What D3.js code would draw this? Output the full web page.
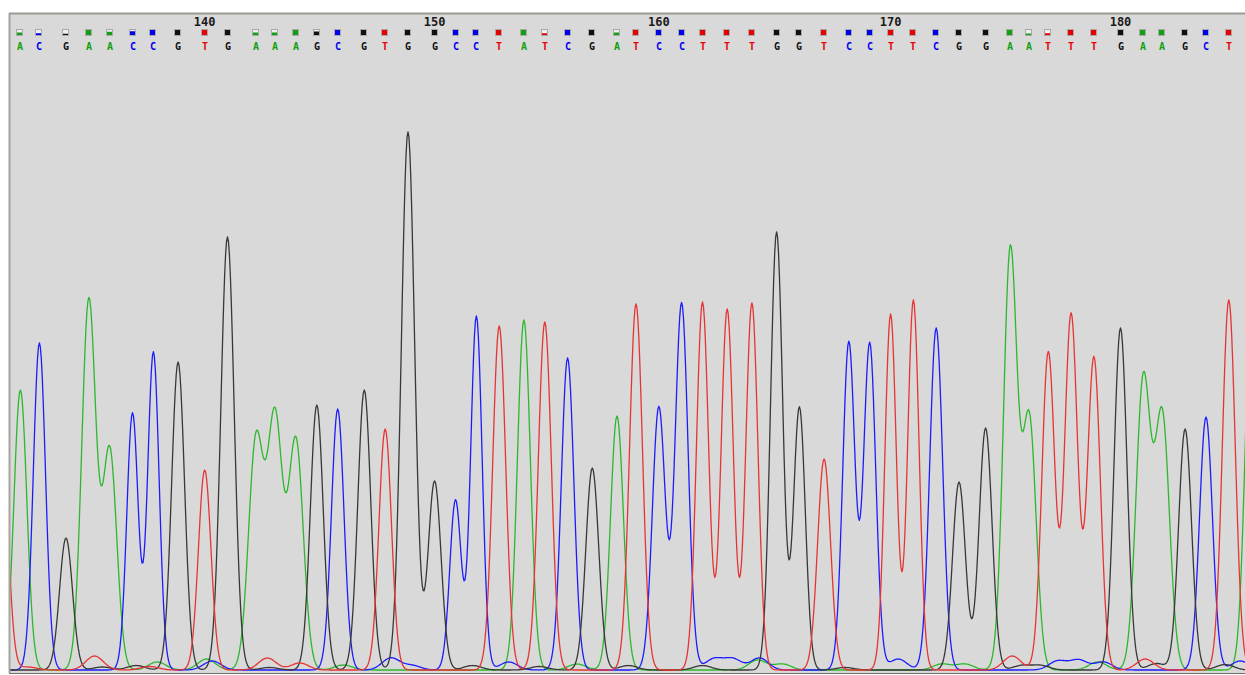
<!DOCTYPE html>
<html>
<head>
<meta charset="utf-8">
<script src="https://cdn.jsdelivr.net/npm/d3@7"></script>
<style>
  body { margin: 0; background: #fff; }
  svg { display: block; }
</style>
</head>
<body>
<div id="chart"></div>
<script>
// called bases, starting at base 132
const bases = "ACGAACCGTGAAAGCGTGGCCTATCGATCCTTTGGTCCTTCGGAATTTGAAGCT".split("");
const firstBase = 132;

// peak location (scan) for each called base
const peakScans = [
  1706, 1716, 1730, 1742, 1753, 1765, 1776, 1789, 1803, 1815,
  1830, 1840, 1851, 1862, 1873, 1887, 1898, 1910, 1924, 1935,
  1946, 1958, 1971, 1982, 1994, 2007, 2020, 2030, 2042, 2054,
  2065, 2078, 2091, 2104, 2116, 2129, 2142, 2153, 2164, 2176,
  2188, 2200, 2214, 2227, 2237, 2247, 2259, 2271, 2285, 2297,
  2307, 2319, 2330, 2342,
];

// peak signal for each called base
const peakHeights = [
  560, 654, 264, 740, 440, 514, 636, 616, 400, 866,
  458, 500, 458, 530, 522, 560, 482, 1076, 378, 340,
  708, 688, 700, 696, 624, 404, 508, 732, 526, 734,
  736, 722, 734, 876, 526, 422, 656, 654, 712, 740,
  684, 376, 484, 840, 500, 636, 712, 626, 684, 580,
  506, 482, 506, 740,
];

// peak width (sigma, in scans)
const peakWidths = [
  3.4, 3.2, 3.4, 3.7, 3.7, 3.0, 3.0, 3.4, 3.3, 3.5,
  3.9, 3.9, 3.9, 3.4, 3.3, 3.4, 3.3, 3.5, 3.4, 3.0,
  3.0, 3.4, 3.4, 3.4, 3.3, 3.4, 3.4, 3.4, 3.4, 3.4,
  3.2, 3.2, 3.2, 3.2, 3.1, 3.4, 3.2, 3.2, 3.0, 3.0,
  3.4, 3.4, 3.4, 3.6, 3.6, 3.4, 3.4, 3.4, 3.4, 3.8,
  3.8, 3.4, 3.4, 3.4,
];

// base call quality (0-40)
const quality = [
  20, 14, 10, 40, 26, 30, 40, 40, 40, 40,
  20, 20, 40, 28, 40, 40, 40, 40, 40, 40,
  40, 40, 40, 14, 40, 40, 20, 40, 40, 40,
  40, 40, 40, 40, 40, 40, 40, 40, 40, 40,
  40, 40, 40, 40, 12, 14, 40, 40, 40, 40,
  40, 40, 40, 40,
];

// peaks just outside the window
const flankBases = ["T", "A"];
const flankScans = [1696, 2354];
const flankHeights = [468, 730];

// small background peaks per channel: [scan, signal]
const noiseA = [[1778, 16], [1804, 22], [1876, 10], [1999, 12], [2094, 20], [2107, 12], [2191, 12], [2203, 12], [2273, 16]];
const noiseC = [[1807, 18], [1901, 24], [1912, 9], [1963, 16], [2071, 22], [2081, 22], [2095, 24], [2168, 22], [2252, 18], [2263, 20], [2276, 16], [2348, 18]];
const noiseG = [[1749, 6], [1767, 9], [1837, 5], [1944, 9], [1979, 7], [2026, 9], [2065, 9], [2140, 5], [2233, 9], [2243, 9], [2304, 13], [2340, 11]];
const noiseT = [[1710, 6], [1745, 28], [1774, 7], [1836, 24], [1853, 14], [2228, 28], [2298, 22]];

var w = 1245,
  h = 675;
var panel = { left: 9, top: 13, right: 1245, bottom: 673 };

var traceColor = { A: "#2cb82c", C: "#1c1cff", G: "#383838", T: "#e63434" };
var callColor = { A: "#10a010", C: "#0000f0", G: "#101010", T: "#e80000" };
var noise = { A: noiseA, C: noiseC, G: noiseG, T: noiseT };

var x = d3.scaleLinear().domain([1700, 2350]).range([9, 1244]);
var y = d3.scaleLinear().domain([0, 1260]).range([670, 40]);

var svg = d3
  .select("#chart")
  .append("svg")
  .attr("width", w)
  .attr("height", h);

svg
  .append("rect")
  .attr("x", panel.left)
  .attr("y", panel.top)
  .attr("width", panel.right - panel.left)
  .attr("height", panel.bottom - panel.top)
  .attr("fill", "#d9d9d9");

// frame
svg.append("line")
  .attr("x1", panel.left).attr("x2", panel.right)
  .attr("y1", panel.top + 0.5).attr("y2", panel.top + 0.5)
  .attr("stroke", "#9c9a92").attr("stroke-width", 2);
svg.append("line")
  .attr("x1", panel.left + 0.5).attr("x2", panel.left + 0.5)
  .attr("y1", panel.top).attr("y2", panel.bottom)
  .attr("stroke", "#a6a49c").attr("stroke-width", 2);
svg.append("line")
  .attr("x1", panel.left).attr("x2", panel.right)
  .attr("y1", panel.bottom + 0.5).attr("y2", panel.bottom + 0.5)
  .attr("stroke", "#6e6e6e").attr("stroke-width", 1);

svg
  .append("clipPath")
  .attr("id", "plot-clip")
  .append("rect")
  .attr("x", panel.left + 1.5)
  .attr("y", panel.top + 2)
  .attr("width", panel.right - panel.left)
  .attr("height", panel.bottom - panel.top - 2.5);

// build the peak list of every channel
var peaks = { A: [], C: [], G: [], T: [] };
bases.forEach((b, i) => {
  peaks[b].push({ scan: peakScans[i], height: peakHeights[i], width: peakWidths[i] });
});
flankBases.forEach((b, i) => {
  peaks[b].push({ scan: flankScans[i], height: flankHeights[i], width: 3.4 });
});
Object.keys(noise).forEach((b) => {
  noise[b].forEach((d) => peaks[b].push({ scan: d[0], height: d[1], width: 4.6 }));
});

const signal = (list, s) =>
  d3.sum(list, (p) => p.height * Math.exp(-((s - p.scan) ** 2) / (2 * p.width * p.width)));

var scans = d3.range(1694, 2356, 0.5);

var line = d3
  .line()
  .x((d) => x(d[0]))
  .y((d) => y(d[1]))
  .curve(d3.curveLinear);

var traces = svg.append("g").attr("clip-path", "url(#plot-clip)");

["A", "C", "G", "T"].forEach((b) => {
  traces
    .append("path")
    .datum(scans.map((s) => [s, signal(peaks[b], s)]))
    .attr("fill", "none")
    .attr("stroke", traceColor[b])
    .attr("stroke-width", 1.3)
    .attr("stroke-linejoin", "round")
    .attr("d", line);
});

// header: base numbers, quality boxes and letters
var header = svg.append("g");

header
  .selectAll(".pos")
  .data(bases.map((b, i) => i).filter((i) => (firstBase + i) % 10 === 0))
  .enter()
  .append("text")
  .attr("class", "pos")
  .attr("x", (i) => x(peakScans[i]))
  .attr("y", 26)
  .attr("text-anchor", "middle")
  .attr("font-family", "DejaVu Sans Mono, monospace")
  .attr("font-weight", "bold")
  .attr("font-size", 12)
  .attr("fill", "#1a1a1a")
  .text((i) => firstBase + i);

var q = d3.scaleLinear().domain([0, 40]).range([0, 5]).clamp(true);

var cells = header
  .selectAll(".call")
  .data(bases)
  .enter()
  .append("g")
  .attr("class", "call")
  .attr("transform", (b, i) => `translate(${Math.round(x(peakScans[i])) - 3.5},29.5)`);

cells
  .append("rect")
  .attr("width", 6)
  .attr("height", 6)
  .attr("fill", "#efefef")
  .attr("stroke", "#a9a9a9")
  .attr("stroke-width", 1);

cells
  .append("rect")
  .attr("x", 0.5)
  .attr("y", (b, i) => 6 - q(quality[i]) - 0.5)
  .attr("width", 5)
  .attr("height", (b, i) => q(quality[i]))
  .attr("fill", (b) => callColor[b]);

header
  .selectAll(".letter")
  .data(bases)
  .enter()
  .append("text")
  .attr("class", "letter")
  .attr("x", (b, i) => Math.round(x(peakScans[i])))
  .attr("y", 50)
  .attr("text-anchor", "middle")
  .attr("font-family", "DejaVu Sans Mono, monospace")
  .attr("font-weight", "bold")
  .attr("font-size", 10)
  .attr("fill", (b) => callColor[b])
  .text((b) => b);
</script>
</body>
</html>
